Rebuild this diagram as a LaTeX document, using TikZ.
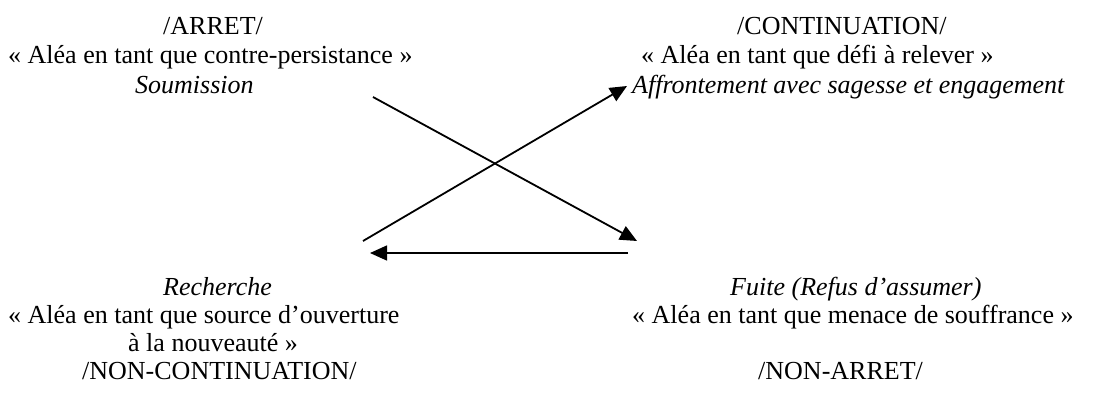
\documentclass[tikz,border=0pt]{standalone}
\usepackage{fontspec}
\setmainfont{Liberation Serif}
\usetikzlibrary{arrows.meta}
\begin{document}
\begin{tikzpicture}[x=1pt,y=-1pt,
  txt/.style={font=\fontsize{26}{30}\selectfont, inner sep=0pt, anchor=base west},
  itx/.style={font=\fontsize{26}{30}\selectfont\itshape, inner sep=0pt, anchor=base west},
  arr/.style={-{Triangle[length=17pt,width=15pt]}, line width=1.8pt}]
\useasboundingbox (0,0) rectangle (1110,407);
% top left
\node[txt] (arret) at (163,34) {/ARRET/};
\node[txt] (contre) at (8,63) {« Aléa en tant que contre-persistance »};
\node[itx] (soum) at (135,93) {Soumission};
% top right
\node[txt] (cont) at (737,34) {/CONTINUATION/};
\node[txt] (defi) at (641,63) {« Aléa en tant que défi à relever »};
\node[itx] (affr) at (632,93) {Affrontement avec sagesse et engagement};
% bottom left
\node[itx] (rech) at (163,295) {Recherche};
\node[txt] (source) at (8,323) {« Aléa en tant que source d’ouverture};
\node[txt] (nouv) at (128,351) {à la nouveauté »};
\node[txt] (noncont) at (82,379) {/NON-CONTINUATION/};
% bottom right
\node[itx] (fuite) at (730,295) {Fuite (Refus d’assumer)};
\node[txt] (menace) at (632,323) {« Aléa en tant que menace de souffrance »};
\node[txt] (nonarret) at (758,379) {/NON-ARRET/};
% arrow ends
\coordinate (aS) at (373,97);
\coordinate (aE) at (637,241);
\coordinate (bS) at (363,241);
\coordinate (bE) at (627,86);
\coordinate (cS) at (628,253);
\coordinate (cE) at (370,253);
\draw[arr] (aS) -- (aE);
\draw[arr] (bS) -- (bE);
\draw[arr, line width=1.5pt] (cS) -- (cE);
\end{tikzpicture}
\end{document}
